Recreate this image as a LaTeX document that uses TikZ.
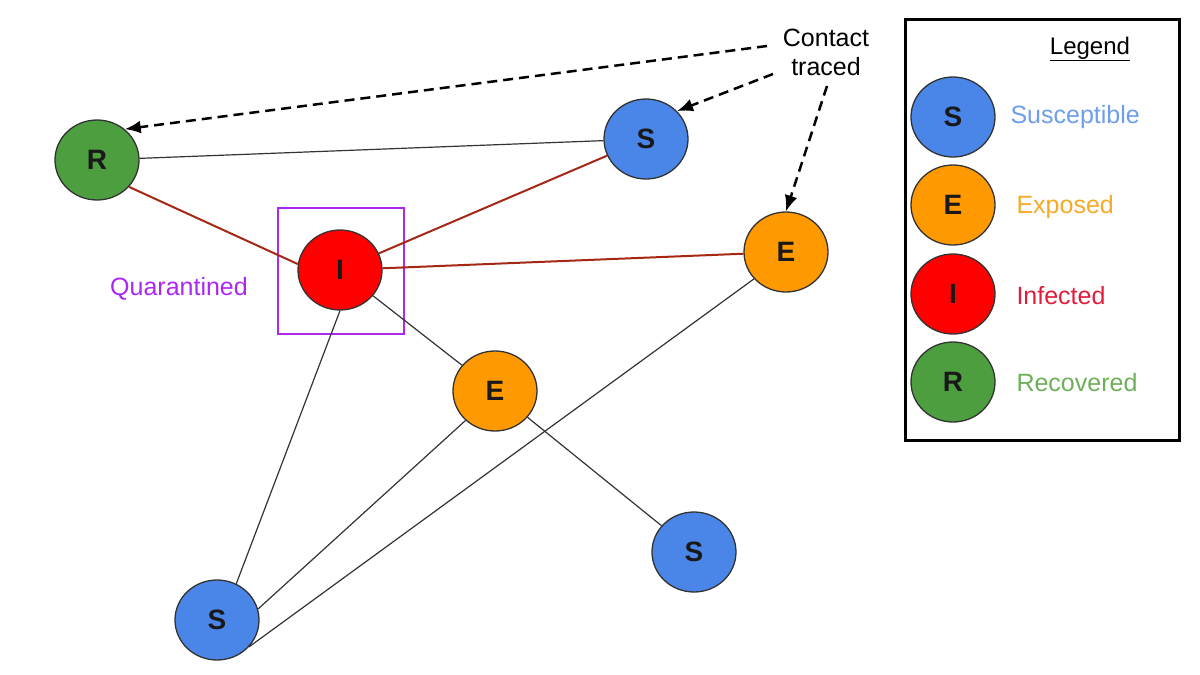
\documentclass[tikz,border=0pt]{standalone}
\usepackage{fontspec}
\setmainfont{Liberation Sans}
\usetikzlibrary{shapes.geometric,arrows.meta}
\definecolor{sblue}{RGB}{74,134,232}
\definecolor{eorange}{RGB}{255,153,0}
\definecolor{ired}{RGB}{255,0,0}
\definecolor{rgreen}{RGB}{76,158,62}
\definecolor{edgered}{RGB}{166,40,20}
\definecolor{qpurple}{RGB}{170,40,240}
\definecolor{tblue}{RGB}{109,158,235}
\definecolor{torange}{RGB}{246,170,40}
\definecolor{tred}{RGB}{224,30,60}
\definecolor{tgreen}{RGB}{110,176,90}
\begin{document}
\begin{tikzpicture}[x=1pt,y=-1pt,
  state/.style={ellipse,draw=black!80,line width=1.3pt,minimum width=84pt,minimum height=80pt,inner sep=0pt,
    font=\fontsize{28}{30}\selectfont\bfseries,text=black!90},
  sus/.style={state,fill=sblue},
  exp/.style={state,fill=eorange},
  inf/.style={state,fill=ired},
  rec/.style={state,fill=rgreen},
  plain/.style={draw=black!80,line width=1.2pt},
  redline/.style={draw=edgered,line width=2pt},
  trace/.style={dashed,dash pattern=on 10pt off 6pt,line width=2.5pt,-{Latex[length=16pt,width=13pt]}},
  lbl/.style={font=\fontsize{25}{29}\selectfont,anchor=west}
]
\useasboundingbox (0,0) rectangle (1200,675);
\fill[white] (0,0) rectangle (1200,675);

% nodes
\node[rec] (R) at (97,160) {R};
\node[sus] (S1) at (646,139) {S};
\node[inf] (I) at (340,270) {I};
\node[exp] (E1) at (786,252) {E};
\node[exp] (E2) at (495,391) {E};
\node[sus] (S2) at (694,552) {S};
\node[sus] (S3) at (217,620) {S};

% quarantine box
\node[draw=qpurple,line width=2.2pt,minimum width=126pt,minimum height=126pt,inner sep=0pt] (Q) at (341,271) {};
\node[font=\fontsize{25}{28}\selectfont,text=qpurple] (Qt) at (179,289) {Quarantined};

% edges
\draw[plain] (R) -- (S1);
\draw[redline] (R.-40) -- (I.172);
\draw[redline] (I) -- (S1);
\draw[redline] (I) -- (E1);
\draw[plain] (I) -- (E2);
\draw[plain] (I.-90) -- (S3.62);
\draw[plain] (E2.-135) -- (S3.15);
\draw[plain] (E1.-140) -- (S3.-40);
\draw[plain] (E2) -- (S2);

% contact traced
\node[font=\fontsize{25}{29}\selectfont,align=center] (CT) at (826,52) {Contact\\traced};
\coordinate (c1) at (767,46);
\coordinate (c2) at (773,74);
\coordinate (c3) at (827,86);
\draw[trace] (c1) -- (R.48);
\draw[trace] (c2) -- (S1.42);
\draw[trace] (c3) -- (E1.north);

% legend
\draw[line width=3pt] (905,19) rectangle (1179,440);
\node[font=\fontsize{24}{28}\selectfont] (LT) at (1090,49) {\underline{Legend}};
\node[sus] (LS) at (953,117) {S};
\node[exp] (LE) at (953,205) {E};
\node[inf] (LI) at (953,294) {I};
\node[rec] (LR) at (953,382) {R};
\node[lbl,text=tblue] (LSt) at (1007,117) {Susceptible};
\node[lbl,text=torange] (LEt) at (1013,207) {Exposed};
\node[lbl,text=tred] (LIt) at (1013,296) {Infected};
\node[lbl,text=tgreen] (LRt) at (1013,383) {Recovered};
\end{tikzpicture}
\end{document}
